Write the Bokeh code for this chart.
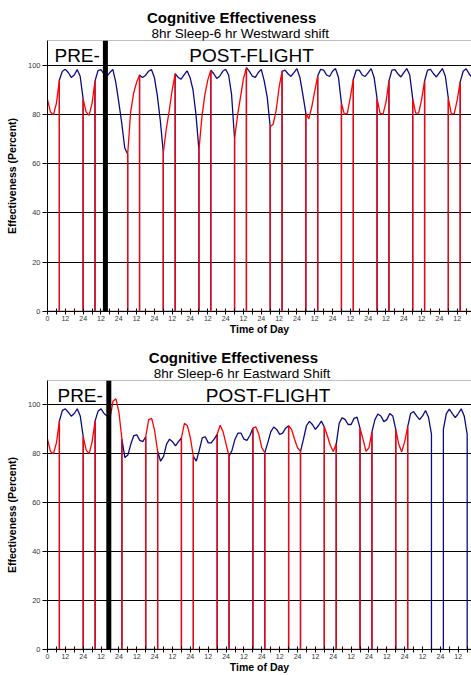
import math
from bokeh.plotting import figure
from bokeh.models import FixedTicker, Span, Label, Range1d, Title
from bokeh.layouts import column
from bokeh.embed import file_html
from bokeh.resources import INLINE

FONT = "Liberation Sans"

# ---- data -------------------------------------------------------------
HOURS = list(range(0, 288, 2))          # time axis, hours since start (2 h samples)

WEST_EFF = [
    86, 81, 79.8, 84.5, 94, 97.5, 98.3, 97, 95, 96, 98.2, 95.5,
    86.3, 81, 79.6, 84.5, 93.5, 97.8, 98.2, 96.5, 95.4, 97, 98.3, 93,
    85, 76.5, 66.5, 63.8, 80.9, 88.5, 93, 96, 95, 95.8, 97.5, 98.2,
    95, 87.5, 77.5, 64.5, 74, 81.5, 90, 96.5, 95, 94.3, 96, 97.7,
    95, 90, 80, 65.5, 79, 88, 94, 98, 96.5, 94.6, 95.5, 97.5,
    98.3, 96, 88, 70, 79.5, 87, 94.5, 99, 97.5, 95.5, 95, 97,
    98.3, 93.5, 87, 75, 76, 81.5, 91, 97.5, 98, 96.5, 95.4, 97,
    98.6, 95, 88, 80.5, 78.2, 83, 89.5, 95.6, 98.3, 98, 96, 95.4,
    97.5, 98.6, 95, 84.5, 80, 80.5, 87, 94.3, 98, 98, 96, 95.4,
    97, 98.6, 95, 86.3, 80.5, 80, 85, 93.6, 98, 98.2, 96.5, 95.2,
    97, 98.6, 96, 86.3, 80.5, 80.5, 86, 93.6, 98, 98.3, 96.5, 95.2,
    97, 98.6, 95.5, 86.5, 80.2, 80.3, 86, 93.2, 97.5, 98.5, 96.5, 95,
]
WEST_SLEEP_START = [0, 24, 54, 78, 102, 126, 150, 174, 198, 222, 246, 270]
WEST_SLEEP_END = [8, 32, 62, 86, 110, 134, 158, 182, 206, 230, 254, 278]
WEST_FLIGHT = 39

EAST_EFF = [
    86, 81, 80, 84.5, 93.5, 97.8, 98.4, 97, 95.4, 96.5, 98.4, 95.5,
    87, 81.5, 80, 85, 93.5, 97.5, 98.4, 96.5, 95.5, 94.5, 101.5, 102.5,
    97, 86, 78.5, 79.5, 84, 87.5, 87.8, 85.5, 85, 87, 94, 94.5,
    89.5, 81, 77, 79, 84, 86, 85, 83.3, 85, 86.5, 92.5, 91.5,
    86.5, 79, 77, 81.5, 86.5, 87, 84.5, 84.5, 86, 88, 91.7, 89,
    84, 79, 81.5, 86, 88.5, 88.5, 86, 85.5, 87.5, 90.5, 91, 88,
    82.5, 80.5, 84.5, 89, 91, 90, 88, 88.5, 90.5, 91.5, 90, 86,
    82.5, 81, 86, 91.5, 93.3, 92, 90, 91.5, 93.4, 91, 87.5, 83.5,
    81, 84, 92.5, 94.8, 94, 92, 92, 94.5, 95, 90.5, 86, 81,
    82.5, 89, 94, 96.3, 95.5, 93.2, 94, 96.5, 95.5, 90, 84, 80.8,
    85, 91, 96.5, 97.3, 95.5, 94, 95.5, 97.7, 95, 88, None, None,
    None, 90, 96.5, 98.3, 96.5, 94.8, 96.5, 98.4, 95.5, 88, None, None,
]
EAST_SLEEP_START = [0, 24, 42, 66, 90, 114, 138, 162, 186, 210, 234, 258, 282]
EAST_SLEEP_END = [8, 32, 50, 74, 98, 122, 146, 170, 194, 218, 242, 266, 290]
EAST_FLIGHT = 41.2
EAST_RED_END = 246

Y_TICKS = [0, 20, 40, 60, 80, 100]
X_MAJOR = list(range(0, 288, 12))
X_MINOR = list(range(6, 288, 12))
X_LABELS = {t: ("0" if t == 0 else ("12" if t % 24 == 12 else "24")) for t in X_MAJOR}

BLUE = "#0a0a84"
RED = "#ff0000"


def phase_series(hours, eff, starts, ends, want_sleep, t_max=None):
    def asleep(a, b):
        m = (a + b) / 2
        return any(s <= m < e for s, e in zip(starts, ends))
    xs, ys = [], []
    n = len(hours)
    for i, t in enumerate(hours):
        if t_max is not None and t > t_max:
            break
        e = eff[i] if eff[i] is not None else float("nan")
        vals = []
        if i > 0:
            vals.append(e if asleep(hours[i - 1], t) == want_sleep else 0.0)
        if i < n - 1:
            v = e if asleep(t, hours[i + 1]) == want_sleep else 0.0
            if not vals or vals[-1] != v:
                vals.append(v)
        for v in vals:
            xs.append(t)
            ys.append(v)
    return xs, ys


def add_text(p, x, y, text, size, align="center"):
    p.add_layout(Label(x=x, y=y, text=text, text_font=FONT,
                       text_font_size=f"{size}px", text_font_style="normal",
                       text_align=align, text_baseline="alphabetic",
                       text_color="black"))


def make_chart(height, left, top, bottom, x_end, eff, starts, ends, flight,
               subtitle, pos, red_end=None):
    p = figure(width=471, height=height, x_range=Range1d(0, x_end), y_range=Range1d(0, 110),
               output_backend="svg", toolbar_location=None, title=None,
               min_border_left=left, min_border_right=0,
               min_border_top=top, min_border_bottom=bottom)
    p.outline_line_color = None
    p.background_fill_color = "white"
    p.border_fill_color = "white"
    p.xgrid.visible = False
    p.ygrid.ticker = FixedTicker(ticks=Y_TICKS)
    p.ygrid.grid_line_color = "black"
    p.ygrid.grid_line_width = 1

    p.xaxis.ticker = FixedTicker(ticks=X_MAJOR, minor_ticks=X_MINOR)
    p.xaxis.major_label_overrides = X_LABELS
    p.xaxis.axis_line_color = "black"
    p.xaxis.major_tick_line_color = "black"
    p.xaxis.minor_tick_line_color = "black"
    p.xaxis.major_tick_in = 3
    p.xaxis.major_tick_out = 3
    p.xaxis.minor_tick_in = 3
    p.xaxis.minor_tick_out = 3
    p.xaxis.major_label_standoff = 1
    p.xaxis.major_label_text_font = FONT
    p.xaxis.major_label_text_font_size = "7px"
    p.xaxis.major_label_text_color = "#333333"
    p.xaxis.axis_label = "Time of Day"
    p.xaxis.axis_label_standoff = -1
    p.xaxis.axis_label_text_font = FONT
    p.xaxis.axis_label_text_font_size = "10.5px"
    p.xaxis.axis_label_text_font_style = "bold"
    p.xaxis.axis_label_text_color = "black"

    p.yaxis.ticker = FixedTicker(ticks=Y_TICKS)
    p.yaxis.axis_line_color = "black"
    p.yaxis.major_tick_line_color = "black"
    p.yaxis.minor_tick_line_color = None
    p.yaxis.major_tick_in = 0
    p.yaxis.major_tick_out = 5
    p.yaxis.major_label_standoff = 2
    p.yaxis.major_label_text_font = FONT
    p.yaxis.major_label_text_font_size = "7.5px"
    p.yaxis.major_label_text_color = "#333333"
    p.yaxis.axis_label = "Effectiveness (Percent)"
    p.yaxis.axis_label_standoff = 7
    p.yaxis.axis_label_text_font = FONT
    p.yaxis.axis_label_text_font_size = "10.5px"
    p.yaxis.axis_label_text_font_style = "bold"
    p.yaxis.axis_label_text_color = "black"

    bx, by = phase_series(HOURS, eff, starts, ends, want_sleep=False)
    rx, ry = phase_series(HOURS, eff, starts, ends, want_sleep=True, t_max=red_end)
    p.line(bx, by, line_color=BLUE, line_width=1.3)
    p.line(rx, ry, line_color=RED, line_width=1.3)

    p.add_layout(Span(location=110, dimension="width", line_color="#808080", line_width=1.2))
    p.add_layout(Span(location=flight, dimension="height", line_color="black", line_width=5))

    sub = Title(text=subtitle, align="left", offset=pos["sub_off"], standoff=0,
                text_font=FONT, text_font_size="13.5px", text_font_style="normal",
                text_color="black")
    main = Title(text="Cognitive Effectiveness", align="left", offset=pos["title_off"],
                 standoff=-4, text_font=FONT, text_font_size="15px",
                 text_font_style="bold", text_color="black")
    p.add_layout(sub, "above")
    p.add_layout(main, "above")

    add_text(p, pos["pre"][0], pos["pre"][1], "PRE-", 19, align="left")
    add_text(p, pos["post"][0], pos["post"][1], "POST-FLIGHT", 19)
    return p


p1 = make_chart(337, 46, 40, 24, 285.6, WEST_EFF, WEST_SLEEP_START, WEST_SLEEP_END,
                WEST_FLIGHT, "8hr Sleep-6 hr Westward shift",
                {"title_off": 99.5, "sub_off": 104, "pre": (4.7, 103.9),
                 "post": (137.5, 103.9)})

p2 = make_chart(338, 47, 43, 22, 284.9, EAST_EFF, EAST_SLEEP_START, EAST_SLEEP_END,
                EAST_FLIGHT, "8hr Sleep-6 hr Eastward Shift",
                {"title_off": 101.3, "sub_off": 106.3, "pre": (6.7, 103.7),
                 "post": (148.2, 103.7)},
                red_end=EAST_RED_END)

layout = column(p1, p2)
open("out.html", "w").write(file_html(layout, INLINE))
